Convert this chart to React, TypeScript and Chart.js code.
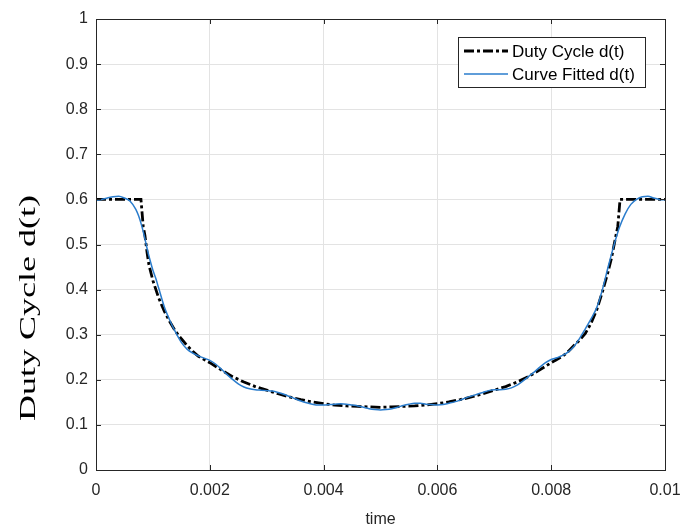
import React, { useEffect, useRef } from 'react';
import { Chart, registerables } from 'chart.js';

Chart.register(...registerables);

// ---------- data ----------
const xTickValues = [0, 0.002, 0.004, 0.006, 0.008, 0.01];
const xTickLabels = ['0', '0.002', '0.004', '0.006', '0.008', '0.01'];
const yTickValues = [0, 0.1, 0.2, 0.3, 0.4, 0.5, 0.6, 0.7, 0.8, 0.9, 1];
const yTickLabels = ['0', '0.1', '0.2', '0.3', '0.4', '0.5', '0.6', '0.7', '0.8', '0.9', '1'];

const seriesNames = ['Duty Cycle d(t)', 'Curve Fitted d(t)'];
const xTitle = 'time';
const yTitle = 'Duty Cycle d(t)';

const dutyTime = [
  0, 0.0002, 0.0004, 0.0006, 0.00079, 0.00083, 0.00086, 0.0009, 0.00093, 0.001,
  0.0011, 0.0012, 0.0013, 0.0014, 0.0015, 0.0016, 0.0017, 0.0018, 0.0019, 0.002,
  0.0022, 0.0024, 0.0026, 0.0028, 0.003, 0.0032, 0.0034, 0.0036, 0.0038, 0.004,
  0.0042, 0.0044, 0.0046, 0.0048, 0.005, 0.0052, 0.0054, 0.0056, 0.0058, 0.006,
  0.0062, 0.0064, 0.0066, 0.0068, 0.007, 0.0072, 0.0074, 0.0076, 0.0078, 0.008,
  0.0081, 0.0082, 0.0083, 0.0084, 0.0085, 0.0086, 0.0087, 0.0088, 0.0089, 0.009,
  0.00906, 0.00913, 0.00917, 0.00921, 0.0094, 0.0096, 0.0098, 0.01,
];
const dutyValue = [
  0.6, 0.6, 0.6, 0.6, 0.6, 0.54, 0.52, 0.48, 0.455, 0.42,
  0.382, 0.352, 0.328, 0.307, 0.291, 0.276, 0.263, 0.252, 0.245, 0.238,
  0.222, 0.207, 0.195, 0.185, 0.177, 0.169, 0.162, 0.156, 0.151, 0.147,
  0.144, 0.142, 0.141, 0.14, 0.139, 0.14, 0.141, 0.142, 0.144, 0.147,
  0.151, 0.156, 0.162, 0.169, 0.177, 0.185, 0.195, 0.207, 0.222, 0.238,
  0.245, 0.252, 0.263, 0.276, 0.288, 0.303, 0.325, 0.355, 0.395, 0.44,
  0.47, 0.515, 0.54, 0.6, 0.6, 0.6, 0.6, 0.6,
];

const fitTime = [
  0, 0.0001, 0.0002, 0.0003, 0.0004, 0.0005, 0.0006, 0.0007, 0.00075, 0.0008,
  0.00085, 0.0009, 0.00095, 0.001, 0.00105, 0.0011, 0.0012, 0.0013, 0.0014, 0.0015,
  0.0016, 0.0017, 0.0018, 0.0019, 0.002, 0.0021, 0.0022, 0.0023, 0.0024, 0.0025,
  0.0026, 0.0027, 0.0028, 0.0029, 0.003, 0.0031, 0.0032, 0.0033, 0.0034, 0.0035,
  0.0036, 0.0037, 0.0038, 0.0039, 0.004, 0.0041, 0.0042, 0.0043, 0.0044, 0.0045,
  0.0046, 0.0047, 0.0048, 0.0049, 0.005, 0.0051, 0.0052, 0.0053, 0.0054, 0.0055,
  0.0056, 0.0057, 0.0058, 0.0059, 0.006, 0.0061, 0.0062, 0.0063, 0.0064, 0.0065,
  0.0066, 0.0067, 0.0068, 0.0069, 0.007, 0.0071, 0.0072, 0.0073, 0.0074, 0.0075,
  0.0076, 0.0077, 0.0078, 0.0079, 0.008, 0.0081, 0.0082, 0.0083, 0.0084, 0.0085,
  0.0086, 0.0087, 0.0088, 0.0089, 0.009, 0.0091, 0.0092, 0.0093, 0.0094, 0.0095,
  0.0096, 0.0097, 0.0098, 0.0099, 0.01,
];
const fitValue = [
  0.598, 0.6, 0.603, 0.606, 0.607, 0.603, 0.596, 0.578, 0.563, 0.543,
  0.518, 0.49, 0.465, 0.443, 0.425, 0.404, 0.362, 0.331, 0.305, 0.283,
  0.268, 0.259, 0.253, 0.248, 0.243, 0.235, 0.224, 0.212, 0.201, 0.191,
  0.184, 0.18, 0.178, 0.177, 0.176, 0.175, 0.172, 0.168, 0.163, 0.158,
  0.153, 0.149, 0.146, 0.144, 0.144, 0.145, 0.146, 0.147, 0.146, 0.144,
  0.142, 0.139, 0.136, 0.134, 0.133, 0.134, 0.136, 0.139, 0.143, 0.146,
  0.148, 0.148, 0.146, 0.145, 0.144, 0.145, 0.148, 0.151, 0.155, 0.16,
  0.164, 0.168, 0.172, 0.176, 0.178, 0.178, 0.179, 0.182, 0.188, 0.197,
  0.207, 0.217, 0.228, 0.238, 0.245, 0.249, 0.254, 0.262, 0.274, 0.292,
  0.313, 0.335, 0.36, 0.4, 0.45, 0.497, 0.538, 0.568, 0.589, 0.6,
  0.606, 0.607, 0.603, 0.6, 0.599,
];

// ---------- styles ----------
const SANS = '"Liberation Sans", Arial, Helvetica, sans-serif';
const SERIF = '"Liberation Serif", "Times New Roman", serif';
const AXIS_COLOR = '#262626';
const GRID_COLOR = '#e3e3e3';
const BLACK = '#000000';
const BLUE = '#2a7ccc';
const DASH = [10, 3, 3, 3];

const framePlugin = {
  id: 'matlabFrame',
  afterDraw(chart: any) {
    const { ctx, chartArea } = chart;
    const { left, right, top, bottom } = chartArea;
    const xs = chart.scales.x;
    const ys = chart.scales.y;
    ctx.save();
    // frame
    ctx.strokeStyle = AXIS_COLOR;
    ctx.lineWidth = 1;
    ctx.setLineDash([]);
    ctx.beginPath();
    ctx.rect(Math.round(left) + 0.5, Math.round(top) + 0.5, Math.round(right - left), Math.round(bottom - top));
    ctx.stroke();
    // inner ticks
    const tl = 5;
    ctx.beginPath();
    xTickValues.forEach((v) => {
      const px = Math.round(xs.getPixelForValue(v)) + 0.5;
      ctx.moveTo(px, bottom);
      ctx.lineTo(px, bottom - tl);
      ctx.moveTo(px, top);
      ctx.lineTo(px, top + tl);
    });
    yTickValues.forEach((v) => {
      const py = Math.round(ys.getPixelForValue(v)) + 0.5;
      ctx.moveTo(left, py);
      ctx.lineTo(left + tl, py);
      ctx.moveTo(right, py);
      ctx.lineTo(right - tl, py);
    });
    ctx.stroke();

    // legend
    const lx = 458.5, ly = 37.5, lw = 187, lh = 50;
    ctx.fillStyle = '#ffffff';
    ctx.fillRect(lx, ly, lw, lh);
    ctx.strokeStyle = AXIS_COLOR;
    ctx.lineWidth = 1;
    ctx.strokeRect(lx, ly, lw, lh);
    const rows = [
      { y: 51, color: BLACK, width: 2.8, dash: DASH },
      { y: 74, color: BLUE, width: 1.5, dash: [] as number[] },
    ];
    rows.forEach((r, i) => {
      ctx.beginPath();
      ctx.setLineDash(r.dash);
      ctx.strokeStyle = r.color;
      ctx.lineWidth = r.width;
      ctx.moveTo(464, r.y);
      ctx.lineTo(508, r.y);
      ctx.stroke();
      ctx.setLineDash([]);
      ctx.fillStyle = '#000000';
      ctx.font = `17px ${SANS}`;
      ctx.textAlign = 'left';
      ctx.textBaseline = 'middle';
      ctx.fillText(seriesNames[i], 512, r.y + 1);
    });

    // y title (serif, rotated)
    ctx.font = `24px ${SERIF}`;
    const w = ctx.measureText(yTitle).width;
    const target = 226;
    ctx.translate(29, 308);
    ctx.rotate(-Math.PI / 2);
    ctx.scale(target / w, 1);
    ctx.fillStyle = '#000000';
    ctx.textAlign = 'center';
    ctx.textBaseline = 'middle';
    ctx.fillText(yTitle, 0, 0);
    ctx.restore();
  },
};

export default function App() {
  const canvasRef = useRef<HTMLCanvasElement | null>(null);

  useEffect(() => {
    document.body.style.margin = '0';
    document.body.style.overflow = 'hidden';
    const canvas = canvasRef.current;
    if (!canvas) return;
    const chart = new Chart(canvas, {
      type: 'line',
      data: {
        datasets: [
          {
            label: seriesNames[1],
            data: fitTime.map((t, i) => ({ x: t, y: fitValue[i] })),
            borderColor: BLUE,
            borderWidth: 1.5,
            pointRadius: 0,
            cubicInterpolationMode: 'monotone',
            order: 0,
          },
          {
            label: seriesNames[0],
            data: dutyTime.map((t, i) => ({ x: t, y: dutyValue[i] })),
            borderColor: BLACK,
            borderWidth: 2.8,
            borderDash: DASH,
            borderCapStyle: 'butt',
            pointRadius: 0,
            tension: 0,
            order: 1,
          },
        ],
      },
      options: {
        responsive: false,
        animation: false,
        events: [],
        layout: { padding: { top: 19, right: 18, left: 0, bottom: 0 } },
        plugins: { legend: { display: false }, tooltip: { enabled: false } },
        scales: {
          x: {
            type: 'linear',
            min: 0,
            max: 0.01,
            afterBuildTicks: (s: any) => {
              s.ticks = xTickValues.map((v) => ({ value: v }));
            },
            afterFit: (s: any) => {
              s.height = 59;
              s.paddingLeft = 0;
              s.paddingRight = 0;
            },
            ticks: {
              autoSkip: false,
              maxRotation: 0,
              padding: 11,
              color: AXIS_COLOR,
              font: { family: SANS, size: 16 },
              callback: (_v: any, i: number) => xTickLabels[i],
            },
            grid: { color: GRID_COLOR, drawTicks: false, lineWidth: 1 },
            border: { display: true, color: AXIS_COLOR, width: 1 },
            title: {
              display: true,
              text: xTitle,
              color: AXIS_COLOR,
              font: { family: SANS, size: 16 },
              padding: { top: 0, bottom: 0 },
            },
          },
          y: {
            type: 'linear',
            min: 0,
            max: 1,
            afterBuildTicks: (s: any) => {
              s.ticks = yTickValues.map((v) => ({ value: v }));
            },
            afterFit: (s: any) => {
              s.width = 96;
              s.paddingTop = 0;
              s.paddingBottom = 0;
            },
            ticks: {
              autoSkip: false,
              padding: 8,
              color: AXIS_COLOR,
              font: { family: SANS, size: 16 },
              callback: (_v: any, i: number) => yTickLabels[i],
            },
            grid: { color: GRID_COLOR, drawTicks: false, lineWidth: 1 },
            border: { display: true, color: AXIS_COLOR, width: 1 },
          },
        },
      },
      plugins: [framePlugin],
    } as any);
    return () => chart.destroy();
  }, []);

  return (
    <div style={{ width: 683, height: 529, background: '#fff' }}>
      <canvas ref={canvasRef} width={683} height={529} style={{ display: 'block', width: 683, height: 529 }} />
    </div>
  );
}
